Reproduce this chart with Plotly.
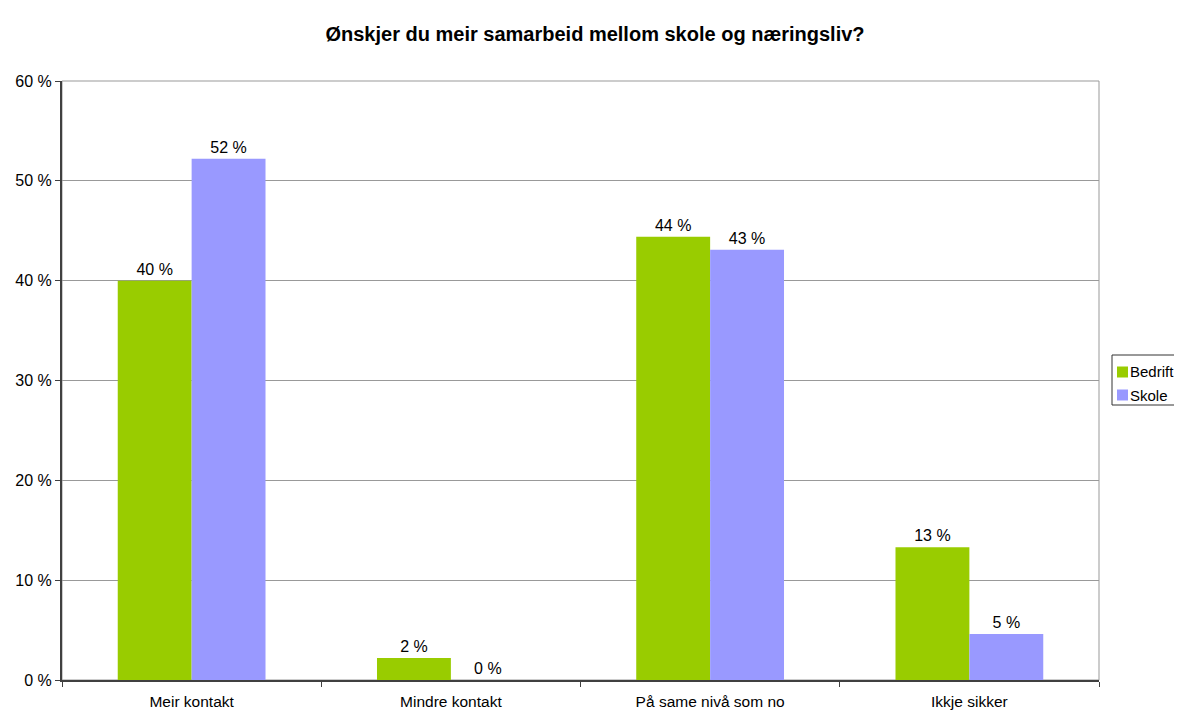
import plotly.graph_objects as go

title = "Ønskjer du meir samarbeid mellom skole og næringsliv?"
categories = ["Meir kontakt", "Mindre kontakt", "På same nivå som no", "Ikkje sikker"]
series_names = ["Bedrift", "Skole"]
bedrift = [40.0, 2.2, 44.4, 13.3]
skole = [52.2, 0.0, 43.1, 4.6]
bedrift_labels = ["40 %", "2 %", "44 %", "13 %"]
skole_labels = ["52 %", "0 %", "43 %", "5 %"]

colors = ["#99CC00", "#9999FF"]
FAM = "Liberation Sans, Arial, sans-serif"
font = dict(family=FAM, size=16, color="#000000")

# Figure is drawn inside the page's 8px body margin
W, H = 1174, 703
L, T, R, B = 54, 73, 83, 31
PW, PH = W - L - R, H - T - B


def px(x):
    return (x - L) / PW


def py(y):
    return (T + PH - y) / PH


fig = go.Figure()
for name, vals, labels, col in zip(series_names, [bedrift, skole], [bedrift_labels, skole_labels], colors):
    fig.add_trace(go.Bar(name=name, x=categories, y=vals, marker=dict(color=col, line=dict(width=0)),
                         text=labels, textposition="outside", textfont=font, cliponaxis=False))

fig.update_layout(
    width=W, height=H,
    paper_bgcolor="white", plot_bgcolor="white",
    font=font,
    title=dict(text="<b>" + title + "</b>", x=0.5, xanchor="center", y=1 - 26 / H, yanchor="middle",
               font=dict(family=FAM, size=20, color="#000000")),
    margin=dict(l=L, r=R, t=T, b=B, autoexpand=False),
    barmode="group", bargap=0.43, bargroupgap=0,
    showlegend=False,
    xaxis=dict(type="category", tickson="boundaries", ticks="outside", ticklen=5, tickcolor="#404040",
               showline=True, linecolor="#404040", linewidth=2, showgrid=False, automargin=False,
               tickfont=dict(size=15.5), ticklabelstandoff=6, range=[-0.5, 3.5]),
    yaxis=dict(range=[0, 60], dtick=10, ticksuffix=" %", ticks="outside", ticklen=5, tickcolor="#404040",
               showline=True, linecolor="#404040", linewidth=2, showgrid=True, gridcolor="#999999",
               gridwidth=1, zeroline=False, automargin=False, tickfont=dict(size=16)),
)

# plot area border
fig.add_shape(type="rect", xref="paper", yref="paper", x0=0, x1=1, y0=0, y1=1,
              line=dict(color="#999999", width=1), layer="below")

# legend box (Excel-style, small square keys)
fig.add_shape(type="rect", xref="paper", yref="paper", x0=px(1104), x1=px(1180), y0=py(397), y1=py(347),
              line=dict(color="#333333", width=1), fillcolor="white")
for i, (name, col) in enumerate(zip(series_names, colors)):
    yc = 364 + i * 23
    fig.add_shape(type="rect", xref="paper", yref="paper", x0=px(1109), x1=px(1120),
                  y0=py(yc + 5.5), y1=py(yc - 5.5), line=dict(width=0), fillcolor=col)
    fig.add_annotation(text=name, xref="paper", yref="paper", x=px(1120), y=py(yc), xanchor="left",
                       yanchor="middle", showarrow=False, font=dict(family=FAM, size=15, color="#000000"))

fig.write_html("out.html")
